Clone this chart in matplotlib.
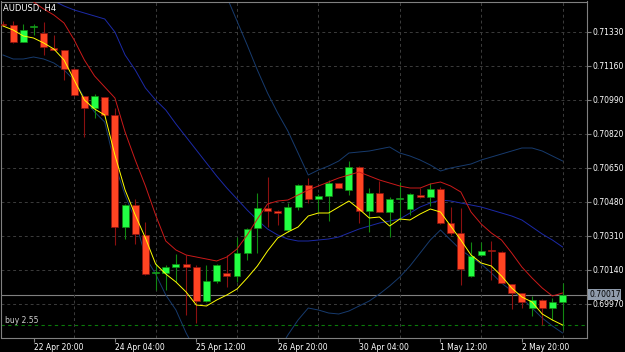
import numpy as np
import matplotlib
matplotlib.use("Agg")
from matplotlib import pyplot as plt

# AUDUSD H4 bars, first one only partly on screen
bar_idx = np.arange(-1, 55)
opens = [0.71372, 0.71365, 0.71282, 0.71355, 0.71323, 0.71252, 0.71238, 0.71145,
         0.71008, 0.70948, 0.71003, 0.70917, 0.70355, 0.70465, 0.70315, 0.70125,
         0.70124, 0.70155, 0.70168, 0.70157, 0.69985, 0.70085, 0.70123, 0.70112,
         0.70224, 0.70349, 0.70449, 0.70437, 0.70338, 0.70457, 0.70565, 0.70494,
         0.70512, 0.70574, 0.70540, 0.70657, 0.70435, 0.70524, 0.70432, 0.70497,
         0.70444, 0.70514, 0.70504, 0.70545, 0.70374, 0.70324, 0.70110, 0.70213,
         0.70237, 0.70230, 0.70070, 0.70024, 0.69952, 0.69990, 0.69952, 0.69982]
highs = [0.71385, 0.71385, 0.71370, 0.71372, 0.71378, 0.71315, 0.71240, 0.71148,
         0.71010, 0.71018, 0.71005, 0.70948, 0.70470, 0.70497, 0.70379, 0.70175,
         0.70165, 0.70219, 0.70215, 0.70165, 0.70165, 0.70170, 0.70215, 0.70307,
         0.70350, 0.70524, 0.70607, 0.70440, 0.70475, 0.70570, 0.70602, 0.70520,
         0.70590, 0.70575, 0.70687, 0.70660, 0.70548, 0.70585, 0.70505, 0.70582,
         0.70525, 0.70550, 0.70573, 0.70557, 0.70454, 0.70449, 0.70282, 0.70282,
         0.70285, 0.70235, 0.70072, 0.70025, 0.70010, 0.69995, 0.70000, 0.70077]
lows = [0.71360, 0.71275, 0.71280, 0.71315, 0.71215, 0.71238, 0.71090, 0.71010,
        0.70805, 0.70900, 0.70912, 0.70265, 0.70297, 0.70269, 0.70117, 0.70040,
        0.70040, 0.70081, 0.69915, 0.69873, 0.69980, 0.70075, 0.70057, 0.70082,
        0.70190, 0.70224, 0.70357, 0.70365, 0.70330, 0.70440, 0.70477, 0.70432,
        0.70387, 0.70550, 0.70515, 0.70373, 0.70332, 0.70430, 0.70304, 0.70390,
        0.70415, 0.70500, 0.70460, 0.70370, 0.70315, 0.70065, 0.70105, 0.70210,
        0.70090, 0.70075, 0.69944, 0.69948, 0.69910, 0.69865, 0.69890, 0.69840]
closes = [0.71365, 0.71282, 0.71340, 0.71357, 0.71257, 0.71240, 0.71147, 0.71015,
          0.70948, 0.71008, 0.70915, 0.70354, 0.70465, 0.70318, 0.70120, 0.70128,
          0.70155, 0.70168, 0.70155, 0.69987, 0.70085, 0.70163, 0.70112, 0.70224,
          0.70347, 0.70449, 0.70437, 0.70424, 0.70457, 0.70565, 0.70494, 0.70512,
          0.70574, 0.70552, 0.70654, 0.70435, 0.70524, 0.70432, 0.70495, 0.70499,
          0.70520, 0.70504, 0.70545, 0.70374, 0.70324, 0.70144, 0.70212, 0.70235,
          0.70235, 0.70077, 0.70027, 0.69982, 0.69990, 0.69952, 0.69982, 0.70017]

nan = np.nan
# indicator lines, one value per bar (nan = off screen)
fast_ma = [0.71360, 0.71340, 0.71310, 0.71300, 0.71275, 0.71245, 0.71190, 0.71090,
           0.70990, 0.70945, 0.70915, 0.70715, 0.70540, 0.70415, 0.70300, 0.70170,
           0.70120, 0.70080, 0.70030, 0.69965, 0.69960, 0.69990, 0.70015, 0.70045,
           0.70100, 0.70160, 0.70235, 0.70300, 0.70330, 0.70355, 0.70410, 0.70425,
           0.70425, 0.70455, 0.70485, 0.70445, 0.70400, 0.70405, 0.70360, 0.70395,
           0.70390, 0.70420, 0.70445, 0.70430, 0.70360, 0.70290, 0.70215, 0.70175,
           0.70160, 0.70110, 0.70050, 0.70005, 0.69980, 0.69920, 0.69890, 0.69865]
slow_ma = [nan, 0.71590, 0.71520, 0.71480, 0.71445, 0.71415, 0.71375, 0.71290,
           0.71190, 0.71110, 0.71055, 0.71000, 0.70830, 0.70690, 0.70560, 0.70415,
           0.70285, 0.70240, 0.70215, 0.70205, 0.70195, 0.70185, 0.70205, 0.70245,
           0.70315, 0.70395, 0.70470, 0.70485, 0.70490, 0.70515, 0.70540, 0.70560,
           0.70580, 0.70600, 0.70615, 0.70630, 0.70610, 0.70590, 0.70575, 0.70560,
           0.70550, 0.70550, 0.70570, 0.70580, 0.70560, 0.70530, 0.70430, 0.70370,
           0.70325, 0.70290, 0.70225, 0.70155, 0.70100, 0.70050, 0.70010, 0.70025]
bb_upper = [nan, nan, nan, nan, nan, nan, nan, nan,
            nan, nan, nan, nan, nan, nan, nan, nan,
            nan, nan, nan, nan, nan, 0.71640, 0.71505, 0.71385,
            0.71265, 0.71140, 0.71025, 0.70925, 0.70835, 0.70725, 0.70615, 0.70640,
            0.70660, 0.70685, 0.70725, 0.70730, 0.70735, 0.70745, 0.70755, 0.70725,
            0.70710, 0.70690, 0.70665, 0.70635, 0.70650, 0.70660, 0.70670, 0.70690,
            0.70705, 0.70720, 0.70735, 0.70750, 0.70750, 0.70735, 0.70710, 0.70685]
bb_mid = [nan, nan, nan, 0.71590, 0.71530, 0.71485, 0.71460, 0.71440,
          0.71425, 0.71410, 0.71395, 0.71330, 0.71215, 0.71140, 0.71050, 0.70990,
          0.70940, 0.70870, 0.70805, 0.70740, 0.70675, 0.70610, 0.70550, 0.70495,
          0.70440, 0.70390, 0.70345, 0.70315, 0.70295, 0.70285, 0.70285, 0.70290,
          0.70295, 0.70305, 0.70325, 0.70345, 0.70360, 0.70375, 0.70385, 0.70395,
          0.70425, 0.70455, 0.70475, 0.70490, 0.70485, 0.70475, 0.70465, 0.70455,
          0.70440, 0.70425, 0.70410, 0.70390, 0.70355, 0.70320, 0.70290, 0.70255]
bb_lower = [0.71215, 0.71195, 0.71195, 0.71205, 0.71195, 0.71175, 0.71140, 0.71090,
            0.71000, 0.70930, 0.70880, 0.70665, 0.70515, 0.70390, 0.70205, 0.70120,
            0.70015, 0.69940, 0.69825, 0.69730, nan, nan, nan, nan,
            nan, nan, 0.69630, 0.69730, 0.69815, 0.69890, 0.69950, 0.69940,
            0.69925, 0.69920, 0.69935, 0.69960, 0.69985, 0.70020, 0.70060, 0.70105,
            0.70160, 0.70225, 0.70290, 0.70340, 0.70290, 0.70240, 0.70205, 0.70170,
            0.70125, 0.70075, 0.70035, 0.70000, 0.69950, 0.69900, 0.69860, 0.69825]

price_ticks = [0.69970, 0.70140, 0.70310, 0.70480, 0.70650, 0.70820, 0.70990, 0.71160, 0.71330]
time_ticks = [2, 10, 18, 26, 34, 42, 50]
time_labels = ["22 Apr 20:00", "24 Apr 04:00", "25 Apr 12:00", "26 Apr 20:00",
               "30 Apr 04:00", "1 May 12:00", "2 May 20:00"]
bid = 0.70017
order_price = 0.69865
order_text = "buy 2.55"

up_col, up_edge = "#22ff44", "#118811"
dn_col, dn_edge = "#ff4422", "#8b1010"
fs = 5.5

fig = plt.figure(figsize=(6.25, 3.52), dpi=100, facecolor="black")
ax = fig.add_axes([1.5 / 625, 1 - 338 / 352, 585.5 / 625, 336.5 / 352])
ax.set_facecolor("black")

o = np.array(opens)
c = np.array(closes)
up = c >= o
body_lo = np.minimum(o, c)
body_h = np.maximum(np.abs(c - o), 0.00003)

# wicks
ax.vlines(bar_idx[up], np.array(lows)[up], np.array(highs)[up], color=up_edge, lw=0.8, zorder=3)
ax.vlines(bar_idx[~up], np.array(lows)[~up], np.array(highs)[~up], color=dn_edge, lw=0.8, zorder=3)
# bodies
ax.bar(bar_idx[up], body_h[up], width=0.68, bottom=body_lo[up], color=up_col,
       edgecolor=up_edge, linewidth=0.5, zorder=4)
ax.bar(bar_idx[~up], body_h[~up], width=0.68, bottom=body_lo[~up], color=dn_col,
       edgecolor=dn_edge, linewidth=0.5, zorder=4)

# indicators
ax.plot(bar_idx, bb_upper, color="#173b6e", lw=0.7, zorder=2)
ax.plot(bar_idx, bb_lower, color="#173b6e", lw=0.7, zorder=2)
ax.plot(bar_idx, bb_mid, color="#1c2aa8", lw=0.7, zorder=2)
ax.plot(bar_idx, slow_ma, color="#cc1a1a", lw=0.7, zorder=5)
ax.plot(bar_idx, fast_ma, color="#ffff00", lw=0.7, zorder=6)

# bid line and pending order
ax.axhline(bid, color="#808080", lw=0.8, zorder=1)
ax.axhline(order_price, color="#0a7a0a", lw=0.8, ls=(0, (3, 3)), zorder=1)
ax.text(0.006, order_price + 0.00024, order_text, transform=ax.get_yaxis_transform(),
        color="#d0d0d0", fontsize=fs, va="center", ha="left")

ax.set_xlim(-1.147, 56.4)
ax.set_ylim(0.69800, 0.714825)

ax.yaxis.tick_right()
ax.set_yticks(price_ticks)
ax.set_yticklabels([f"{p:.5f}" for p in price_ticks])
ax.set_xticks(time_ticks)
ax.set_xticklabels(time_labels, ha="left")
ax.set_xticks(np.arange(2, 56, 4), minor=True)
ax.tick_params(axis="both", which="major", colors="#808080", labelcolor="white",
               labelsize=fs, length=3, width=0.8, pad=1)
ax.tick_params(axis="x", which="minor", length=0)
ax.tick_params(axis="x", which="major", pad=0.5)

ax.grid(True, axis="y", which="major", color="#3c3c3c", lw=0.7, ls=(0, (3, 3)))
ax.grid(True, axis="x", which="minor", color="#3c3c3c", lw=0.7, ls=(0, (3, 3)))
for s in ax.spines.values():
    s.set_color("#808080")
    s.set_linewidth(0.8)

# current price tag on the scale
ax.text(1.0035, bid, f"{bid:.5f}", transform=ax.get_yaxis_transform(), fontsize=fs,
        color="black", va="center", ha="left",
        bbox=dict(boxstyle="square,pad=0.12", fc="#8f9bab", ec="none"))

fig.text(3 / 625, 1 - 8 / 352, "AUDUSD, H4", color="white", fontsize=6, va="center", ha="left")

fig.savefig("out.png", dpi=100, facecolor="black")
